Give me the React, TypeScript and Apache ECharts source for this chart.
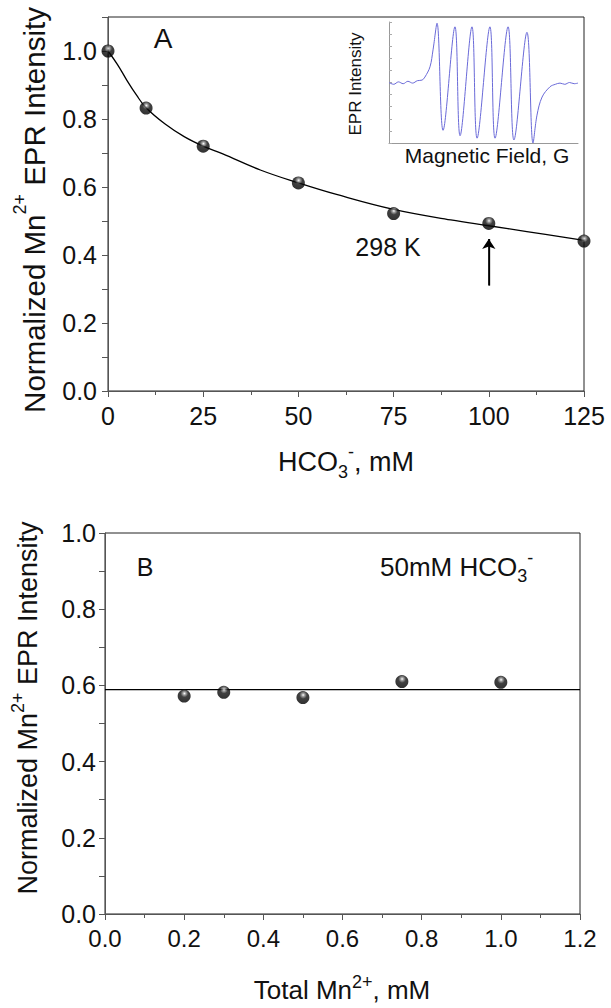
import React, { useEffect, useRef } from "react";
import * as echarts from "echarts";

// ---------- Panel A data ----------
const hco3 = [0, 10, 25, 50, 75, 100, 125];
const intensityA = [1.0, 0.832, 0.72, 0.612, 0.522, 0.493, 0.441];
const fitX = [0, 2.5, 5, 7.5, 10, 15, 20, 25, 30, 40, 50, 60, 75, 90, 100, 110, 125];
const fitY = [1.0, 0.96, 0.913, 0.87, 0.833, 0.785, 0.748, 0.72, 0.698, 0.65, 0.612, 0.578, 0.534, 0.503, 0.486, 0.469, 0.443];
const xTicksA = [0, 25, 50, 75, 100, 125];
const arrowX = 100;
const arrowFrom = 0.31;
const arrowTo = 0.447;

// ---------- Panel B data ----------
const mnTotal = [0.2, 0.3, 0.5, 0.75, 1.0];
const intensityB = [0.572, 0.582, 0.568, 0.61, 0.608];
const meanB = 0.589;
const lineBX = [0, 1.2];
const xTicksB = [0, 0.2, 0.4, 0.6, 0.8, 1.0, 1.2];

// ---------- Inset EPR spectrum (arbitrary units) ----------
const fieldG = [0, 2.5, 5, 7.5, 10, 12.5, 15, 17.5, 19, 21.7, 23.3, 25.4, 28.6, 34.9, 37.6, 43.9, 46.6, 53.4, 56.1, 63.0, 66.1, 73.0, 76.2, 78.3, 81.0, 85.2, 88, 90.5, 93, 95.5, 98, 100];
const eprSignal = [0, -0.03, 0.01, -0.02, 0.02, -0.01, 0.03, 0.04, 0.09, 0.26, 0.54, 0.98, -0.79, 0.92, -0.88, 0.92, -0.92, 0.92, -0.92, 0.92, -0.95, 0.83, -1.0, -0.54, -0.24, -0.07, -0.03, -0.01, -0.03, 0.0, -0.02, -0.01];

const FONT = 'Arial, "Liberation Sans", sans-serif';

const sphere = {
  type: "radial",
  x: 0.52,
  y: 0.3,
  r: 0.65,
  colorStops: [
    { offset: 0, color: "#ffffff" },
    { offset: 0.18, color: "#8a8a8a" },
    { offset: 0.45, color: "#111111" },
    { offset: 1, color: "#000000" },
  ],
};

function fmt1(v: number) {
  return v.toFixed(1);
}

export default function App() {
  const ref = useRef<HTMLDivElement>(null);

  useEffect(() => {
    document.body.style.margin = "0";
    const chart = echarts.init(ref.current!, null, { renderer: "svg" });

    const axisLineGray = { show: true, onZero: false, lineStyle: { color: "#555", width: 1 } };

    const option: any = {
      animation: false,
      backgroundColor: "#fff",
      textStyle: { fontFamily: FONT },
      grid: [
        { left: 108, top: 17, width: 476, height: 374, show: true, borderColor: "#222", borderWidth: 1, backgroundColor: "transparent" },
        { left: 105, top: 533, width: 475, height: 381, show: true, borderColor: "#222", borderWidth: 1, backgroundColor: "transparent" },
        { left: 389, top: 22, width: 189, height: 121, show: false },
      ],
      xAxis: [
        {
          gridIndex: 0, type: "value", min: xTicksA[0], max: xTicksA[xTicksA.length - 1], interval: 25,
          axisLine: axisLineGray, axisTick: { show: true, length: 6, lineStyle: { color: "#555" } },
          minorTick: { show: true, splitNumber: 2, length: 4, lineStyle: { color: "#555" } },
          splitLine: { show: false },
          axisLabel: { fontSize: 25, color: "#111", margin: 12, fontFamily: FONT },
        },
        {
          gridIndex: 1, type: "value", min: xTicksB[0], max: xTicksB[xTicksB.length - 1], interval: 0.2,
          axisLine: axisLineGray, axisTick: { show: true, length: 6, lineStyle: { color: "#555" } },
          minorTick: { show: true, splitNumber: 2, length: 4, lineStyle: { color: "#555" } },
          splitLine: { show: false },
          axisLabel: { fontSize: 24, color: "#111", margin: 12, fontFamily: FONT, formatter: fmt1 },
        },
        {
          gridIndex: 2, type: "value", min: 0, max: 100,
          axisLine: { show: true, onZero: false, lineStyle: { color: "#999", width: 1 } },
          axisTick: { show: false }, axisLabel: { show: false }, splitLine: { show: false },
        },
      ],
      yAxis: [
        {
          gridIndex: 0, type: "value", min: 0, max: 1.1, interval: 0.2,
          axisLine: axisLineGray, axisTick: { show: true, length: 6, lineStyle: { color: "#555" } },
          minorTick: { show: true, splitNumber: 2, length: 6, lineStyle: { color: "#555" } },
          splitLine: { show: false },
          axisLabel: { fontSize: 25, color: "#111", margin: 11, fontFamily: FONT, formatter: (v: number) => (v > 1.05 ? "" : fmt1(v)) },
        },
        {
          gridIndex: 1, type: "value", min: 0, max: 1.0, interval: 0.2,
          axisLine: axisLineGray, axisTick: { show: true, length: 6, lineStyle: { color: "#555" } },
          minorTick: { show: true, splitNumber: 2, length: 6, lineStyle: { color: "#555" } },
          splitLine: { show: false },
          axisLabel: { fontSize: 25, color: "#111", margin: 9, fontFamily: FONT, formatter: fmt1 },
        },
        {
          gridIndex: 2, type: "value", min: -1, max: 1, interval: 0.2,
          axisLine: { show: true, onZero: false, lineStyle: { color: "#999", width: 1 } },
          axisTick: { show: true, inside: true, length: 3, lineStyle: { color: "#aaa" } },
          axisLabel: { show: false }, splitLine: { show: false },
        },
      ],
      series: [
        {
          name: "fitA", type: "line", xAxisIndex: 0, yAxisIndex: 0,
          data: fitX.map((x, i) => [x, fitY[i]]),
          smooth: 0.4, showSymbol: false, symbol: "none",
          lineStyle: { color: "#000", width: 1.3 }, z: 2,
        },
        {
          name: "dataA", type: "scatter", xAxisIndex: 0, yAxisIndex: 0,
          data: hco3.map((x, i) => [x, intensityA[i]]),
          symbol: "circle", symbolSize: 13, itemStyle: { color: sphere }, z: 3,
        },
        {
          name: "arrow", type: "line", xAxisIndex: 0, yAxisIndex: 0,
          data: [[arrowX, arrowFrom], [arrowX, arrowTo]],
          showSymbol: false, symbol: "none",
          lineStyle: { color: "#000", width: 1.3 }, z: 2,
          markLine: {
            silent: true, symbol: ["none", "arrow"], symbolSize: 10,
            lineStyle: { color: "#000", width: 1.3, type: "solid" },
            label: { show: false },
            data: [[{ coord: [arrowX, arrowFrom] }, { coord: [arrowX, arrowTo] }]],
          },
        },
        {
          name: "meanB", type: "line", xAxisIndex: 1, yAxisIndex: 1,
          data: lineBX.map((x) => [x, meanB]),
          showSymbol: false, symbol: "none",
          lineStyle: { color: "#000", width: 1.2 }, z: 2,
        },
        {
          name: "dataB", type: "scatter", xAxisIndex: 1, yAxisIndex: 1,
          data: mnTotal.map((x, i) => [x, intensityB[i]]),
          symbol: "circle", symbolSize: 13, itemStyle: { color: sphere }, z: 3,
        },
        {
          name: "epr", type: "line", xAxisIndex: 2, yAxisIndex: 2,
          data: fieldG.map((x, i) => [x, eprSignal[i]]),
          smooth: 0.35, showSymbol: false, symbol: "none",
          lineStyle: { color: "#6a6ad8", width: 1 },
        },
      ],
      graphic: [
        {
          type: "text", x: 30, y: 210, rotation: Math.PI / 2,
          style: {
            text: "{a|Normalized Mn}{s|2+}{a| EPR Intensity}",
            align: "center", verticalAlign: "middle",
            rich: {
              a: { fontSize: 29.5, fontFamily: FONT, fill: "#111", lineHeight: 38, verticalAlign: "bottom" },
              s: { fontSize: 18, fontFamily: FONT, fill: "#111", lineHeight: 18, verticalAlign: "top" },
            },
          },
        },
        {
          type: "text", x: 25, y: 708, rotation: Math.PI / 2,
          style: {
            text: "{a|Normalized Mn}{s|2+}{a| EPR Intensity}",
            align: "center", verticalAlign: "middle",
            rich: {
              a: { fontSize: 27, fontFamily: FONT, fill: "#111", lineHeight: 32, verticalAlign: "bottom" },
              s: { fontSize: 18, fontFamily: FONT, fill: "#111", lineHeight: 18, verticalAlign: "top" },
            },
          },
        },
        {
          type: "text", x: 346, y: 462,
          style: {
            text: "{a|HCO}{d|3}{u|-}{a|, mM}",
            align: "center", verticalAlign: "middle",
            rich: {
              a: { fontSize: 27, fontFamily: FONT, fill: "#111", lineHeight: 38 },
              d: { fontSize: 18, fontFamily: FONT, fill: "#111", lineHeight: 18, verticalAlign: "bottom" },
              u: { fontSize: 18, fontFamily: FONT, fill: "#111", lineHeight: 18, verticalAlign: "top" },
            },
          },
        },
        {
          type: "text", x: 342, y: 988,
          style: {
            text: "{a|Total Mn}{s|2+}{a|, mM}",
            align: "center", verticalAlign: "middle",
            rich: {
              a: { fontSize: 26, fontFamily: FONT, fill: "#111", lineHeight: 30, verticalAlign: "bottom" },
              s: { fontSize: 18, fontFamily: FONT, fill: "#111", lineHeight: 18, verticalAlign: "top" },
            },
          },
        },
        {
          type: "text", x: 163, y: 38,
          style: { text: "A", fontSize: 28, fontFamily: FONT, fill: "#111", align: "center", verticalAlign: "middle" },
        },
        {
          type: "text", x: 388, y: 247,
          style: { text: "298 K", fontSize: 25, fontFamily: FONT, fill: "#111", align: "center", verticalAlign: "middle" },
        },
        {
          type: "text", x: 145, y: 567,
          style: { text: "B", fontSize: 25, fontFamily: FONT, fill: "#111", align: "center", verticalAlign: "middle" },
        },
        {
          type: "text", x: 380, y: 567,
          style: {
            text: "{a|50mM HCO}{d|3}{u|-}",
            align: "left", verticalAlign: "middle",
            rich: {
              a: { fontSize: 26, fontFamily: FONT, fill: "#111", lineHeight: 36 },
              d: { fontSize: 18, fontFamily: FONT, fill: "#111", lineHeight: 18, verticalAlign: "bottom" },
              u: { fontSize: 18, fontFamily: FONT, fill: "#111", lineHeight: 18, verticalAlign: "top" },
            },
          },
        },
        {
          type: "text", x: 355, y: 84, rotation: Math.PI / 2,
          style: { text: "EPR Intensity", fontSize: 17, fontFamily: FONT, fill: "#111", align: "center", verticalAlign: "middle" },
        },
        {
          type: "text", x: 487, y: 155,
          style: { text: "Magnetic Field, G", fontSize: 21, fontFamily: FONT, fill: "#111", align: "center", verticalAlign: "middle" },
        },
      ],
    };

    chart.setOption(option);
    return () => chart.dispose();
  }, []);

  return <div ref={ref} style={{ width: 611, height: 1008 }} />;
}
